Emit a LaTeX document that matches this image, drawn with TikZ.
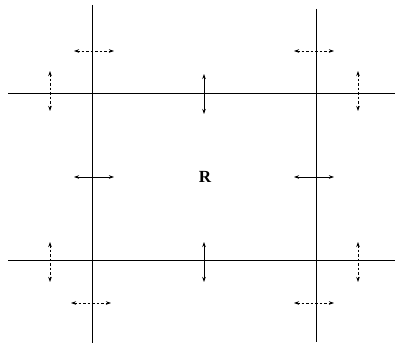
\documentclass[tikz,border=0pt]{standalone}
\usepackage{fontspec}
\setmainfont{Liberation Serif}
\usetikzlibrary{positioning,arrows.meta,calc}

\tikzset{
  boundary/.style={line width=1pt, draw=black},
  move/.style={{Stealth[length=5pt,width=3.5pt]}-{Stealth[length=5pt,width=3.5pt]}, line width=0.8pt},
  movedash/.style={move, dash pattern=on 2.5pt off 2pt},
}

\begin{document}
\begin{tikzpicture}[x=1pt,y=-1pt]
\useasboundingbox (0,0) rectangle (395,345);
% region boundaries
\coordinate (lt) at (92,5);    \coordinate (lb) at (92,343);
\coordinate (rt) at (316,9);   \coordinate (rb) at (316,342);
\coordinate (tl) at (8,93);    \coordinate (tr) at (395,93);
\coordinate (bl) at (8,260);   \coordinate (br) at (395,260);
\draw[boundary] (lt) -- (lb);
\draw[boundary] (rt) -- (rb);
\draw[boundary] (tl) -- (tr);
\draw[boundary] (bl) -- (br);
\node[font=\fontsize{17}{20}\selectfont\bfseries] (R) at (205,177) {R};
% solid moves
\foreach \x/\y in {94/177,314/177} {
  \draw[move] (\x-20,\y) -- (\x+20,\y);
}
\foreach \x/\y in {204/94,204/262} {
  \draw[move] (\x,\y-20) -- (\x,\y+20);
}
% dashed moves
\foreach \x/\y in {94/51,314/51,91/303,314/303} {
  \draw[movedash] (\x-20,\y) -- (\x+20,\y);
}
\foreach \x/\y in {50/91,358/91,50/262,358/262} {
  \draw[movedash] (\x,\y-20) -- (\x,\y+20);
}
\end{tikzpicture}
\end{document}
